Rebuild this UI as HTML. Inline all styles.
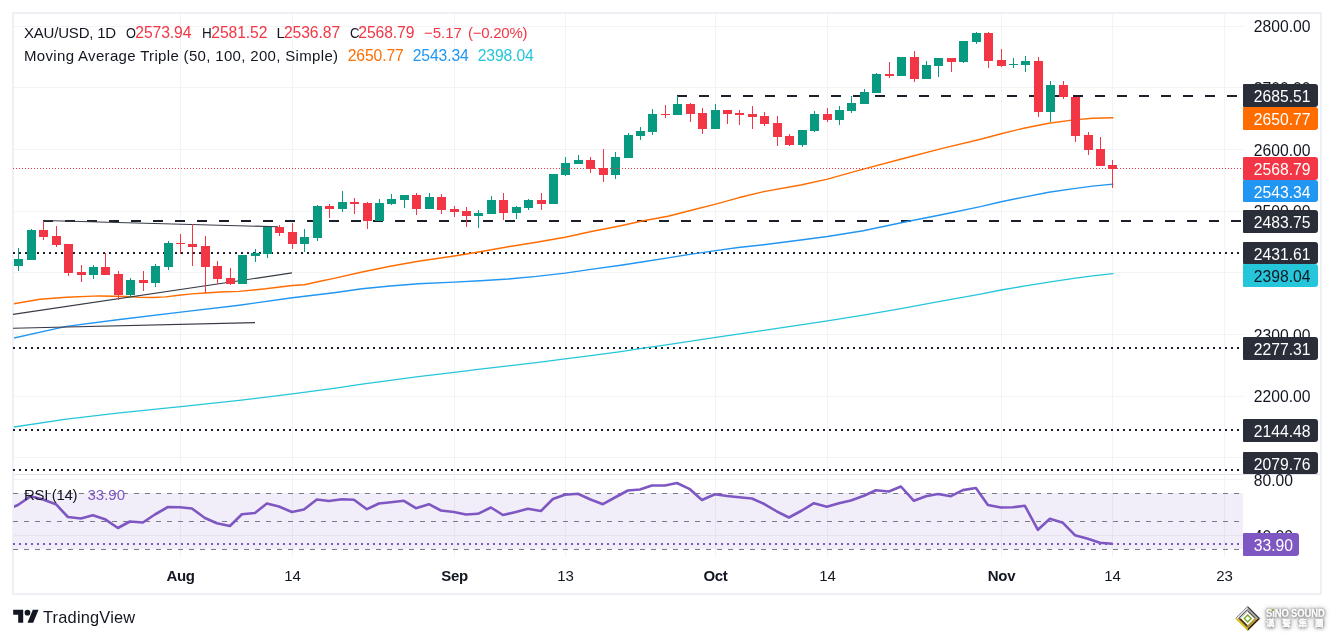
<!DOCTYPE html>
<html lang="en"><head><meta charset="utf-8"><title>XAU/USD 1D</title>
<style>
html,body{margin:0;padding:0;background:#fff;}
body{width:1334px;height:640px;position:relative;overflow:hidden;font-family:"Liberation Sans","Noto Sans CJK TC",sans-serif;color:#131722;}
#chart{position:absolute;left:0;top:0;}
.t{position:absolute;white-space:nowrap;font-size:15px;line-height:18px;height:18px;}
.ax{position:absolute;left:1253.8px;white-space:nowrap;font-size:15.7px;line-height:18px;height:18px;color:#131722;}
.lb{position:absolute;left:1243px;width:75px;height:22px;border-radius:1px 3px 3px 1px;box-sizing:border-box;padding-left:10.8px;font-size:15.7px;line-height:22px;color:#fff;white-space:nowrap;}
.tm{position:absolute;top:566.8px;width:60px;text-align:center;font-size:15px;line-height:18px;white-space:nowrap;}
.b{font-weight:bold;letter-spacing:-0.35px;}
.r{color:#f23645;}
.n{font-size:15.7px;letter-spacing:-0.1px;}
</style></head><body>

<svg id="chart" width="1334" height="640" viewBox="0 0 1334 640">
<defs><clipPath id="pc"><rect x="14" y="14" width="1229" height="543"/></clipPath></defs>
<g shape-rendering="crispEdges" fill="#f2f3f4">
<rect x="180" y="13" width="1" height="544"/>
<rect x="292" y="13" width="1" height="544"/>
<rect x="454" y="13" width="1" height="544"/>
<rect x="565" y="13" width="1" height="544"/>
<rect x="715" y="13" width="1" height="544"/>
<rect x="827" y="13" width="1" height="544"/>
<rect x="1001" y="13" width="1" height="544"/>
<rect x="1112" y="13" width="1" height="544"/>
<rect x="1224" y="13" width="1" height="544"/>
<rect x="13" y="457" width="1230" height="1"/>
<rect x="13" y="396" width="1230" height="1"/>
<rect x="13" y="334" width="1230" height="1"/>
<rect x="13" y="272" width="1230" height="1"/>
<rect x="13" y="211" width="1230" height="1"/>
<rect x="13" y="149" width="1230" height="1"/>
<rect x="13" y="87" width="1230" height="1"/>
<rect x="13" y="26" width="1230" height="1"/>
<rect x="13" y="479" width="1230" height="1"/>
<rect x="13" y="535" width="1230" height="1"/>
</g>
<rect x="14" y="493" width="1229" height="56" fill="#7e57c2" fill-opacity="0.1" shape-rendering="crispEdges"/>
<g shape-rendering="crispEdges" fill="#e0e3eb">
<g fill="#eef0f5"><rect x="12" y="12" width="1310" height="2"/><rect x="12" y="593" width="1310" height="2"/><rect x="12" y="12" width="2" height="583"/><rect x="1320" y="12" width="2" height="583"/></g>
<rect x="14" y="474" width="1306" height="1"/>
</g>
<g shape-rendering="crispEdges" stroke="#787b86" stroke-width="1" stroke-dasharray="5 6">
<line x1="13" y1="493.5" x2="1243" y2="493.5"/>
<line x1="13" y1="521.5" x2="1243" y2="521.5"/>
<line x1="13" y1="549.5" x2="1243" y2="549.5"/>
</g>
<line x1="13" y1="544" x2="1243" y2="544" stroke="#7e57c2" stroke-width="2" stroke-dasharray="2 4" shape-rendering="crispEdges"/>
<g shape-rendering="crispEdges" stroke="#1c202c" stroke-width="2">
<line x1="677" y1="96" x2="1243" y2="96" stroke-dasharray="10 12"/>
<line x1="43" y1="221" x2="1243" y2="221" stroke-dasharray="10 12"/>
<line x1="13" y1="253" x2="1243" y2="253" stroke-dasharray="2 4"/>
<line x1="13" y1="348" x2="1243" y2="348" stroke-dasharray="2 4"/>
<line x1="13" y1="430" x2="1243" y2="430" stroke-dasharray="2 4"/>
<line x1="13" y1="470" x2="1243" y2="470" stroke-dasharray="2 4"/>
</g>
<polyline clip-path="url(#pc)" points="12.0,427.2 13.3,427.1 66.4,419.1 119.6,412.9 180.7,406.6 239.2,400.4 292.3,393.9 334.0,388.4 362.1,384.2 390.2,380.4 418.3,376.6 454.3,372.4 480.2,369.1 508.3,365.8 536.4,362.6 565.1,358.9 592.6,355.4 620.8,351.6 643.3,348.2 668.0,344.7 715.7,337.4 763.7,330.4 800.8,324.9 827.4,320.9 863.3,315.1 902.4,308.4 941.4,301.1 980.5,294.1 1001.2,290.0 1023.8,286.1 1048.8,282.1 1073.8,278.4 1092.5,275.9 1113.0,273.6" fill="none" stroke="#26c6da" stroke-width="1.35" stroke-linejoin="round" stroke-linecap="round"/>
<polyline clip-path="url(#pc)" points="12.0,338.4 13.3,338.1 66.4,326.4 119.6,319.5 180.7,312.1 239.2,305.2 292.3,297.8 334.0,292.8 362.1,288.8 390.2,286.0 418.3,283.8 454.3,282.1 480.2,280.8 508.3,279.0 536.4,276.4 565.1,273.1 592.6,269.1 620.8,265.2 643.3,261.8 668.0,257.9 691.4,254.1 715.7,250.6 738.3,247.5 763.7,244.7 800.8,240.0 827.4,236.5 863.3,230.7 902.4,222.5 941.4,214.7 980.5,206.6 1001.2,201.8 1023.8,197.1 1048.8,192.3 1073.8,188.6 1092.5,186.1 1113.0,184.1" fill="none" stroke="#2196f3" stroke-width="1.4" stroke-linejoin="round" stroke-linecap="round"/>
<polyline clip-path="url(#pc)" points="12.0,304.1 13.3,303.9 39.9,299.3 66.4,297.2 93.0,296.1 100.0,296.0 113.1,296.2 126.3,296.5 139.4,297.2 152.5,297.5 165.6,296.9 178.8,295.2 191.9,293.9 205.0,293.0 220.0,292.0 239.0,291.4 265.7,288.8 292.3,285.5 304.3,284.8 318.9,281.5 334.0,278.4 362.1,272.0 390.2,266.3 418.3,261.3 454.3,256.0 480.2,251.8 508.3,246.7 536.4,242.2 565.1,237.2 592.6,231.2 620.8,225.7 643.3,220.8 668.0,216.3 691.4,210.3 715.7,204.1 738.3,197.8 763.7,191.6 800.8,185.0 827.4,179.1 863.3,169.2 902.4,158.8 941.4,148.6 980.5,139.2 1001.2,133.7 1023.8,128.2 1048.8,123.2 1073.8,119.9 1092.5,118.2 1113.0,117.7" fill="none" stroke="#ff6d00" stroke-width="1.4" stroke-linejoin="round" stroke-linecap="round"/>
<g stroke="#363a45" stroke-width="1.15" fill="none">
<line x1="43.5" y1="220.5" x2="278" y2="226.8"/>
<line x1="13" y1="314.4" x2="292" y2="272.9"/>
<line x1="13" y1="328.2" x2="255" y2="322.6"/>
</g>
<g shape-rendering="crispEdges">
<rect x="18" y="248" width="1" height="23" fill="#089981"/><rect x="14" y="259" width="9" height="7" fill="#089981"/>
<rect x="31" y="229" width="1" height="31" fill="#089981"/><rect x="27" y="230" width="9" height="30" fill="#089981"/>
<rect x="43" y="221" width="1" height="19" fill="#f23645"/><rect x="39" y="230" width="9" height="7" fill="#f23645"/>
<rect x="56" y="226" width="1" height="21" fill="#f23645"/><rect x="52" y="236" width="9" height="9" fill="#f23645"/>
<rect x="68" y="244" width="1" height="32" fill="#f23645"/><rect x="64" y="244" width="9" height="29" fill="#f23645"/>
<rect x="81" y="265" width="1" height="17" fill="#f23645"/><rect x="77" y="272" width="9" height="3" fill="#f23645"/>
<rect x="93" y="265" width="1" height="14" fill="#089981"/><rect x="89" y="267" width="9" height="8" fill="#089981"/>
<rect x="105" y="253" width="1" height="22" fill="#f23645"/><rect x="101" y="267" width="9" height="8" fill="#f23645"/>
<rect x="118" y="271" width="1" height="29" fill="#f23645"/><rect x="114" y="274" width="9" height="21" fill="#f23645"/>
<rect x="130" y="278" width="1" height="20" fill="#089981"/><rect x="126" y="280" width="9" height="15" fill="#089981"/>
<rect x="143" y="271" width="1" height="20" fill="#f23645"/><rect x="139" y="280" width="9" height="3" fill="#f23645"/>
<rect x="155" y="264" width="1" height="23" fill="#089981"/><rect x="151" y="266" width="9" height="17" fill="#089981"/>
<rect x="168" y="241" width="1" height="29" fill="#089981"/><rect x="164" y="243" width="9" height="24" fill="#089981"/>
<rect x="180" y="234" width="1" height="20" fill="#f23645"/><rect x="176" y="243" width="9" height="1" fill="#f23645"/>
<rect x="192" y="224" width="1" height="42" fill="#f23645"/><rect x="188" y="244" width="9" height="3" fill="#f23645"/>
<rect x="205" y="236" width="1" height="57" fill="#f23645"/><rect x="201" y="246" width="9" height="21" fill="#f23645"/>
<rect x="217" y="261" width="1" height="23" fill="#f23645"/><rect x="213" y="266" width="9" height="13" fill="#f23645"/>
<rect x="230" y="268" width="1" height="17" fill="#f23645"/><rect x="226" y="278" width="9" height="6" fill="#f23645"/>
<rect x="242" y="255" width="1" height="29" fill="#089981"/><rect x="238" y="255" width="9" height="29" fill="#089981"/>
<rect x="255" y="249" width="1" height="13" fill="#089981"/><rect x="251" y="253" width="9" height="3" fill="#089981"/>
<rect x="267" y="227" width="1" height="31" fill="#089981"/><rect x="263" y="227" width="9" height="27" fill="#089981"/>
<rect x="279" y="225" width="1" height="11" fill="#f23645"/><rect x="275" y="227" width="9" height="6" fill="#f23645"/>
<rect x="292" y="223" width="1" height="26" fill="#f23645"/><rect x="288" y="232" width="9" height="12" fill="#f23645"/>
<rect x="304" y="229" width="1" height="23" fill="#089981"/><rect x="300" y="237" width="9" height="7" fill="#089981"/>
<rect x="317" y="205" width="1" height="36" fill="#089981"/><rect x="313" y="206" width="9" height="32" fill="#089981"/>
<rect x="329" y="204" width="1" height="14" fill="#f23645"/><rect x="325" y="206" width="9" height="3" fill="#f23645"/>
<rect x="342" y="191" width="1" height="21" fill="#089981"/><rect x="338" y="202" width="9" height="7" fill="#089981"/>
<rect x="354" y="198" width="1" height="16" fill="#f23645"/><rect x="350" y="202" width="9" height="2" fill="#f23645"/>
<rect x="367" y="202" width="1" height="27" fill="#f23645"/><rect x="363" y="203" width="9" height="18" fill="#f23645"/>
<rect x="379" y="199" width="1" height="22" fill="#089981"/><rect x="375" y="203" width="9" height="18" fill="#089981"/>
<rect x="391" y="194" width="1" height="11" fill="#089981"/><rect x="387" y="199" width="9" height="5" fill="#089981"/>
<rect x="404" y="195" width="1" height="13" fill="#089981"/><rect x="400" y="195" width="9" height="5" fill="#089981"/>
<rect x="416" y="193" width="1" height="22" fill="#f23645"/><rect x="412" y="195" width="9" height="14" fill="#f23645"/>
<rect x="429" y="193" width="1" height="16" fill="#089981"/><rect x="425" y="197" width="9" height="12" fill="#089981"/>
<rect x="441" y="194" width="1" height="20" fill="#f23645"/><rect x="437" y="197" width="9" height="13" fill="#f23645"/>
<rect x="454" y="206" width="1" height="11" fill="#f23645"/><rect x="450" y="209" width="9" height="3" fill="#f23645"/>
<rect x="466" y="207" width="1" height="20" fill="#f23645"/><rect x="462" y="211" width="9" height="5" fill="#f23645"/>
<rect x="478" y="210" width="1" height="18" fill="#089981"/><rect x="474" y="213" width="9" height="3" fill="#089981"/>
<rect x="491" y="196" width="1" height="18" fill="#089981"/><rect x="487" y="200" width="9" height="14" fill="#089981"/>
<rect x="503" y="193" width="1" height="27" fill="#f23645"/><rect x="499" y="200" width="9" height="13" fill="#f23645"/>
<rect x="516" y="206" width="1" height="13" fill="#089981"/><rect x="512" y="207" width="9" height="6" fill="#089981"/>
<rect x="528" y="199" width="1" height="11" fill="#089981"/><rect x="524" y="200" width="9" height="8" fill="#089981"/>
<rect x="541" y="193" width="1" height="17" fill="#f23645"/><rect x="537" y="200" width="9" height="4" fill="#f23645"/>
<rect x="553" y="174" width="1" height="30" fill="#089981"/><rect x="549" y="174" width="9" height="30" fill="#089981"/>
<rect x="565" y="157" width="1" height="19" fill="#089981"/><rect x="561" y="163" width="9" height="12" fill="#089981"/>
<rect x="578" y="155" width="1" height="9" fill="#089981"/><rect x="574" y="160" width="9" height="4" fill="#089981"/>
<rect x="590" y="157" width="1" height="16" fill="#f23645"/><rect x="586" y="160" width="9" height="9" fill="#f23645"/>
<rect x="603" y="149" width="1" height="33" fill="#f23645"/><rect x="599" y="168" width="9" height="7" fill="#f23645"/>
<rect x="615" y="152" width="1" height="27" fill="#089981"/><rect x="611" y="157" width="9" height="18" fill="#089981"/>
<rect x="628" y="133" width="1" height="25" fill="#089981"/><rect x="624" y="135" width="9" height="23" fill="#089981"/>
<rect x="640" y="127" width="1" height="13" fill="#089981"/><rect x="636" y="131" width="9" height="5" fill="#089981"/>
<rect x="652" y="109" width="1" height="26" fill="#089981"/><rect x="648" y="114" width="9" height="18" fill="#089981"/>
<rect x="665" y="105" width="1" height="13" fill="#f23645"/><rect x="661" y="114" width="9" height="1" fill="#f23645"/>
<rect x="677" y="96" width="1" height="19" fill="#089981"/><rect x="673" y="104" width="9" height="11" fill="#089981"/>
<rect x="690" y="103" width="1" height="19" fill="#f23645"/><rect x="686" y="104" width="9" height="10" fill="#f23645"/>
<rect x="702" y="108" width="1" height="26" fill="#f23645"/><rect x="698" y="113" width="9" height="16" fill="#f23645"/>
<rect x="715" y="104" width="1" height="25" fill="#089981"/><rect x="711" y="110" width="9" height="19" fill="#089981"/>
<rect x="727" y="110" width="1" height="14" fill="#f23645"/><rect x="723" y="110" width="9" height="4" fill="#f23645"/>
<rect x="739" y="110" width="1" height="15" fill="#f23645"/><rect x="735" y="113" width="9" height="2" fill="#f23645"/>
<rect x="752" y="106" width="1" height="23" fill="#f23645"/><rect x="748" y="114" width="9" height="3" fill="#f23645"/>
<rect x="764" y="112" width="1" height="14" fill="#f23645"/><rect x="760" y="116" width="9" height="8" fill="#f23645"/>
<rect x="777" y="116" width="1" height="30" fill="#f23645"/><rect x="773" y="123" width="9" height="14" fill="#f23645"/>
<rect x="789" y="134" width="1" height="12" fill="#f23645"/><rect x="785" y="136" width="9" height="9" fill="#f23645"/>
<rect x="802" y="130" width="1" height="17" fill="#089981"/><rect x="798" y="130" width="9" height="15" fill="#089981"/>
<rect x="814" y="111" width="1" height="21" fill="#089981"/><rect x="810" y="114" width="9" height="17" fill="#089981"/>
<rect x="827" y="108" width="1" height="14" fill="#f23645"/><rect x="823" y="114" width="9" height="6" fill="#f23645"/>
<rect x="839" y="106" width="1" height="19" fill="#089981"/><rect x="835" y="110" width="9" height="10" fill="#089981"/>
<rect x="851" y="96" width="1" height="17" fill="#089981"/><rect x="847" y="103" width="9" height="8" fill="#089981"/>
<rect x="864" y="89" width="1" height="15" fill="#089981"/><rect x="860" y="92" width="9" height="12" fill="#089981"/>
<rect x="876" y="73" width="1" height="20" fill="#089981"/><rect x="872" y="74" width="9" height="19" fill="#089981"/>
<rect x="889" y="62" width="1" height="16" fill="#f23645"/><rect x="885" y="74" width="9" height="2" fill="#f23645"/>
<rect x="901" y="57" width="1" height="19" fill="#089981"/><rect x="897" y="57" width="9" height="19" fill="#089981"/>
<rect x="914" y="51" width="1" height="31" fill="#f23645"/><rect x="910" y="57" width="9" height="22" fill="#f23645"/>
<rect x="926" y="61" width="1" height="18" fill="#089981"/><rect x="922" y="65" width="9" height="14" fill="#089981"/>
<rect x="938" y="58" width="1" height="19" fill="#089981"/><rect x="934" y="58" width="9" height="8" fill="#089981"/>
<rect x="951" y="58" width="1" height="14" fill="#f23645"/><rect x="947" y="58" width="9" height="4" fill="#f23645"/>
<rect x="963" y="41" width="1" height="22" fill="#089981"/><rect x="959" y="41" width="9" height="21" fill="#089981"/>
<rect x="976" y="32" width="1" height="12" fill="#089981"/><rect x="972" y="33" width="9" height="9" fill="#089981"/>
<rect x="988" y="32" width="1" height="36" fill="#f23645"/><rect x="984" y="33" width="9" height="28" fill="#f23645"/>
<rect x="1001" y="49" width="1" height="18" fill="#f23645"/><rect x="997" y="60" width="9" height="6" fill="#f23645"/>
<rect x="1013" y="58" width="1" height="10" fill="#089981"/><rect x="1009" y="64" width="9" height="1" fill="#089981"/>
<rect x="1025" y="56" width="1" height="16" fill="#089981"/><rect x="1021" y="61" width="9" height="4" fill="#089981"/>
<rect x="1038" y="57" width="1" height="60" fill="#f23645"/><rect x="1034" y="61" width="9" height="51" fill="#f23645"/>
<rect x="1050" y="81" width="1" height="41" fill="#089981"/><rect x="1046" y="85" width="9" height="27" fill="#089981"/>
<rect x="1063" y="81" width="1" height="18" fill="#f23645"/><rect x="1059" y="85" width="9" height="12" fill="#f23645"/>
<rect x="1075" y="97" width="1" height="45" fill="#f23645"/><rect x="1071" y="97" width="9" height="39" fill="#f23645"/>
<rect x="1088" y="132" width="1" height="23" fill="#f23645"/><rect x="1084" y="135" width="9" height="15" fill="#f23645"/>
<rect x="1100" y="137" width="1" height="29" fill="#f23645"/><rect x="1096" y="149" width="9" height="17" fill="#f23645"/>
<rect x="1112" y="160" width="1" height="28" fill="#f23645"/><rect x="1108" y="165" width="9" height="4" fill="#f23645"/>
</g>
<line x1="13" y1="168.5" x2="1243" y2="168.5" stroke="#f23645" stroke-width="1" stroke-dasharray="1 2" shape-rendering="crispEdges"/>
<polyline clip-path="url(#pc)" points="12.0,507.5 17.9,505.0 30.9,496.2 42.9,499.5 55.9,504.2 67.9,517.0 80.9,518.5 92.9,515.2 104.9,519.2 117.9,528.0 129.9,521.5 142.9,522.5 154.9,514.5 167.9,507.0 179.9,507.2 191.9,508.5 204.9,518.0 216.9,523.2 229.9,526.0 241.9,514.2 254.9,513.0 266.9,503.5 278.9,506.5 291.9,512.0 303.9,509.5 316.9,499.5 328.9,501.0 341.9,499.2 353.9,499.8 366.9,509.2 378.9,503.5 390.9,502.2 403.9,500.8 415.9,508.2 428.9,504.2 440.9,510.5 453.9,512.0 465.9,514.5 477.9,513.8 490.9,507.5 502.9,515.0 515.9,512.0 527.9,508.8 540.9,511.0 552.9,499.0 564.9,494.8 577.9,493.8 589.9,499.2 602.9,504.2 614.9,497.5 627.9,490.5 639.9,489.5 651.9,485.5 664.9,485.5 676.9,483.0 689.9,489.2 701.9,500.0 714.9,494.2 726.9,496.0 738.9,497.2 751.9,498.5 763.9,503.8 776.9,511.5 788.9,517.5 801.9,510.5 813.9,503.2 826.9,506.8 838.9,503.2 850.9,500.5 863.9,495.8 875.9,490.2 888.9,491.5 900.9,486.5 913.9,500.8 925.9,496.2 937.9,494.0 950.9,496.2 962.9,490.1 975.9,488.0 987.9,505.0 1000.9,507.5 1012.9,507.2 1024.9,505.8 1037.9,529.8 1049.9,518.8 1062.9,522.8 1074.9,535.2 1087.9,538.8 1099.9,542.8 1111.9,543.8" fill="none" stroke="#7e57c2" stroke-width="2.6" stroke-linejoin="round" stroke-linecap="round"/>
<g transform="translate(13.2,607) scale(0.714,0.715)" fill="#131722"><path d="M14 22H7V11H0V4h14v18zM28 22h-8l7.5-18h8L28 22z"/><circle cx="20" cy="8" r="4"/></g>
<g transform="translate(1247.7,618.5)">
<polygon points="0,-12.6 -12.6,0 0,12.6 12.6,0" fill="#fff"/>
<polygon points="0.00,-12.60 -12.60,0.00 -11.50,0.00 0.00,-11.50" fill="#6a6a6a"/>
<polygon points="0.00,-11.50 -11.50,0.00 -9.60,0.00 0.00,-9.60" fill="#e2e2e2"/>
<polygon points="0.00,-9.60 -9.60,0.00 -8.30,0.00 0.00,-8.30" fill="#2c2c2c"/>
<polygon points="0.00,-8.30 -8.30,0.00 -6.80,0.00 0.00,-6.80" fill="#cfcfcf"/>
<polygon points="0.00,-12.60 12.60,0.00 10.40,0.00 0.00,-10.40" fill="#3d3838"/>
<polygon points="0.00,-10.40 10.40,0.00 8.60,0.00 0.00,-8.60" fill="#a9a9a9"/>
<polygon points="0.00,-8.60 8.60,0.00 6.80,0.00 0.00,-6.80" fill="#5a5656"/>
<polygon points="0.00,12.60 -12.60,0.00 -9.40,0.00 0.00,9.40" fill="#d9c21c"/>
<polygon points="0.00,9.40 -9.40,0.00 -6.80,0.00 0.00,6.80" fill="#4a3210"/>
<polygon points="0.00,12.60 12.60,0.00 9.80,0.00 0.00,9.80" fill="#3f2a14"/>
<polygon points="0.00,9.80 9.80,0.00 6.80,0.00 0.00,6.80" fill="#b4962a"/>
<polygon points="0,-3.4 -3.4,0 0,3.4 3.4,0" fill="#fff" stroke="#74ad22" stroke-width="1.4"/>
</g>
</svg>
<div class="t " style="left:24px;top:24.1px;letter-spacing:-0.2px">XAU/USD, 1D</div>
<div class="t " style="left:126px;top:24.1px;transform:scaleX(0.85);transform-origin:0 0">O</div>
<div class="t r n" style="left:135.3px;top:24.1px;">2573.94</div>
<div class="t " style="left:202px;top:24.1px;transform:scaleX(0.9);transform-origin:0 0">H</div>
<div class="t r n" style="left:211.3px;top:24.1px;">2581.52</div>
<div class="t " style="left:276.5px;top:24.1px;">L</div>
<div class="t r n" style="left:284px;top:24.1px;">2536.87</div>
<div class="t " style="left:349.5px;top:24.1px;transform:scaleX(0.88);transform-origin:0 0">C</div>
<div class="t r n" style="left:358.3px;top:24.1px;">2568.79</div>
<div class="t r" style="left:424px;top:24.1px;">−5.17</div>
<div class="t r" style="left:468px;top:24.1px;letter-spacing:-0.25px">(−0.20%)</div>
<div class="t " style="left:24px;top:47.1px;letter-spacing:0.33px">Moving Average Triple (50, 100, 200, Simple)</div>
<div class="t n" style="left:347.7px;top:47.1px;color:#ff6d00">2650.77</div>
<div class="t n" style="left:412.7px;top:47.1px;color:#2196f3">2543.34</div>
<div class="t n" style="left:477.7px;top:47.1px;color:#26c6da">2398.04</div>
<div class="t " style="left:24px;top:485.8px;letter-spacing:-0.35px">RSI (14)</div>
<div class="t " style="left:87.5px;top:485.8px;color:#7e57c2">33.90</div>
<div class="ax" style="top:18.4px">2800.00</div>
<div class="ax" style="top:80.1px">2700.00</div>
<div class="ax" style="top:141.7px">2600.00</div>
<div class="ax" style="top:203.4px">2500.00</div>
<div class="ax" style="top:265.1px">2400.00</div>
<div class="ax" style="top:326.7px">2300.00</div>
<div class="ax" style="top:388.4px">2200.00</div>
<div class="ax" style="top:471.7px">80.00</div>
<div class="ax" style="top:527.7px">40.00</div>
<div class="lb" style="top:84.25px;height:22.70px;line-height:25.70px;overflow:hidden;background:#2a2e39;color:#fff;width:74.6px">2685.51</div>
<div class="lb" style="top:106.95px;height:22.95px;line-height:25.95px;overflow:hidden;background:#ff6d00;color:#fff;width:74.6px">2650.77</div>
<div class="lb" style="top:157px;height:22.90px;line-height:25.90px;overflow:hidden;background:#f23645;color:#fff;width:74.6px">2568.79</div>
<div class="lb" style="top:179.9px;height:22.60px;line-height:25.60px;overflow:hidden;background:#2196f3;color:#fff;width:74.6px">2543.34</div>
<div class="lb" style="top:209.85px;height:22.75px;line-height:25.75px;overflow:hidden;background:#2a2e39;color:#fff;width:74.6px">2483.75</div>
<div class="lb" style="top:241.8px;height:22.20px;line-height:25.20px;overflow:hidden;background:#2a2e39;color:#fff;width:74.6px">2431.61</div>
<div class="lb" style="top:264px;height:22.80px;line-height:25.80px;overflow:hidden;background:#26c6da;color:#131722;width:74.6px">2398.04</div>
<div class="lb" style="top:337.2px;height:22.60px;line-height:25.60px;overflow:hidden;background:#2a2e39;color:#fff;width:74.6px">2277.31</div>
<div class="lb" style="top:419.1px;height:22.60px;line-height:25.60px;overflow:hidden;background:#2a2e39;color:#fff;width:74.6px">2144.48</div>
<div class="lb" style="top:451.8px;height:22.20px;line-height:25.20px;overflow:hidden;background:#2a2e39;color:#fff;width:74.6px">2079.76</div>
<div class="lb" style="top:533px;height:22.50px;line-height:25.50px;overflow:hidden;background:#7e57c2;color:#fff;width:56px">33.90</div>
<div class="tm b" style="left:150.5px">Aug</div>
<div class="tm" style="left:262.5px">14</div>
<div class="tm b" style="left:424.5px">Sep</div>
<div class="tm" style="left:535.5px">13</div>
<div class="tm b" style="left:685.5px">Oct</div>
<div class="tm" style="left:797.5px">14</div>
<div class="tm b" style="left:971.5px">Nov</div>
<div class="tm" style="left:1082.5px">14</div>
<div class="tm" style="left:1194.5px">23</div>
<div class="t" style="left:43px;top:606.5px;font-size:16.4px;line-height:20px;height:20px;letter-spacing:0.2px">TradingView</div>
<div style="position:absolute;left:1266px;top:608px;font-size:10px;line-height:12px;font-weight:bold;color:#fff;white-space:nowrap;letter-spacing:-0.1px;transform:scaleX(0.94);transform-origin:0 0;text-shadow:0 0 2px #777,0 0 3px #888,0 0 5px #aaa,0 0 7px #bbb,0 1px 3px #999;-webkit-text-stroke:0.35px #fff;">SiNO SOUND</div>
<div style="position:absolute;left:1266px;top:617.4px;font-size:8.5px;line-height:12px;font-weight:bold;color:#fff;white-space:nowrap;letter-spacing:7.8px;text-shadow:0 0 2px #777,0 0 3px #888,0 0 5px #aaa,0 0 7px #bbb,0 1px 3px #999;-webkit-text-stroke:0.35px #fff;">漢聲集團</div>
<div style="position:absolute;left:1272.2px;top:609px;width:1.8px;height:1.8px;background:#7ab51d;transform:skewX(-20deg)"></div>
</body></html>
